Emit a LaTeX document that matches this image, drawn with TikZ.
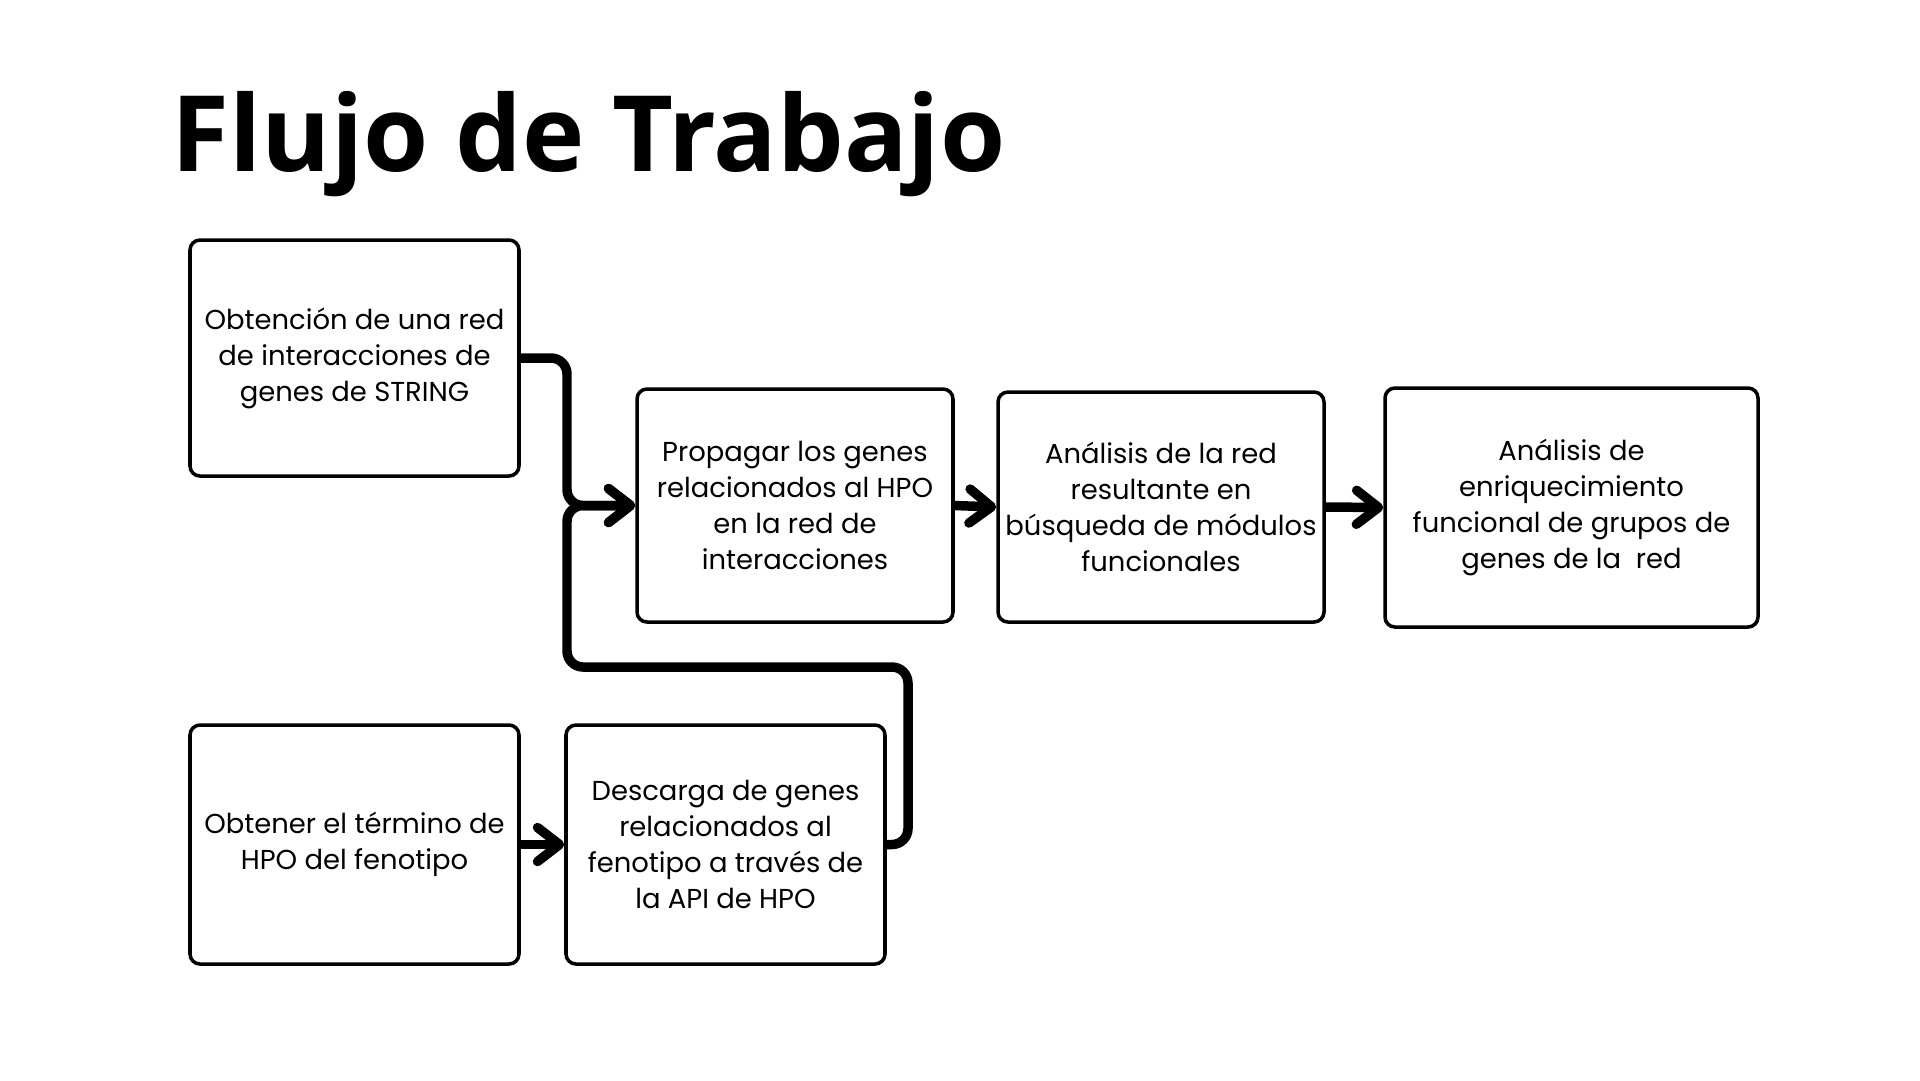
\documentclass[tikz,border=0pt]{standalone}
\usepackage{fontspec}
\setmainfont{Poppins}
\newfontfamily\titlefont{Open Sans}
\usetikzlibrary{arrows.meta,positioning}

\begin{document}
\begin{tikzpicture}[x=0.1mm, y=-0.1mm,
    stepbox/.style={draw, line width=1pt, rounded corners=1mm, align=center,
        font=\fontsize{7.8}{10.24}\selectfont, inner sep=0pt},
    flow/.style={line width=2.7pt, rounded corners=1.6mm,
        -{Straight Barb[length=2.2mm, width=3.4mm, round]}}]
    \useasboundingbox[fill=white] (0,0) rectangle (1920,1080);

    % Title
    \node[anchor=base west, inner sep=0pt, font=\titlefont\bfseries\fontsize{30}{36}\selectfont] (title) at (171,171) {Flujo de Trabajo};

    % Upper row
    \node[stepbox, minimum width=32.9mm, minimum height=23.6mm] (red) at (354.5,358) {Obtención de una red\\de interacciones de\\genes de STRING};
    \node[stepbox, minimum width=31.6mm, minimum height=23.3mm] (prop) at (795,505.5) {Propagar los genes\\relacionados al HPO\\en la red de\\interacciones};
    \node[stepbox, minimum width=32.6mm, minimum height=23mm] (mod) at (1161,507) {Análisis de la red\\resultante en\\búsqueda de módulos\\funcionales};
    \node[stepbox, minimum width=37.3mm, minimum height=23.9mm] (enr) at (1571.5,507.5) {Análisis de\\enriquecimiento\\funcional de grupos de\\genes de la\ \ red};

    % Lower row
    \node[stepbox, minimum width=32.9mm, minimum height=23.9mm] (hpo) at (354.5,844.5) {Obtener el término de\\HPO del fenotipo};
    \node[stepbox, minimum width=31.9mm, minimum height=23.9mm] (api) at (725.5,844.5) {Descarga de genes\\relacionados al\\fenotipo a través de\\la API de HPO};

    % Connectors
    \coordinate (merge) at (567,505.5);
    \coordinate (turn) at (908,667);
    \draw[flow] (red.east) -| (merge) -- (prop.west);
    \draw[flow] (api.east) -| (turn) -| (merge) -- (prop.west);
    \draw[flow] (prop.east) -- (mod.west);
    \draw[flow] (mod.east) -- (enr.west);
    \draw[flow] (hpo.east) -- (api.west);
\end{tikzpicture}
\end{document}
